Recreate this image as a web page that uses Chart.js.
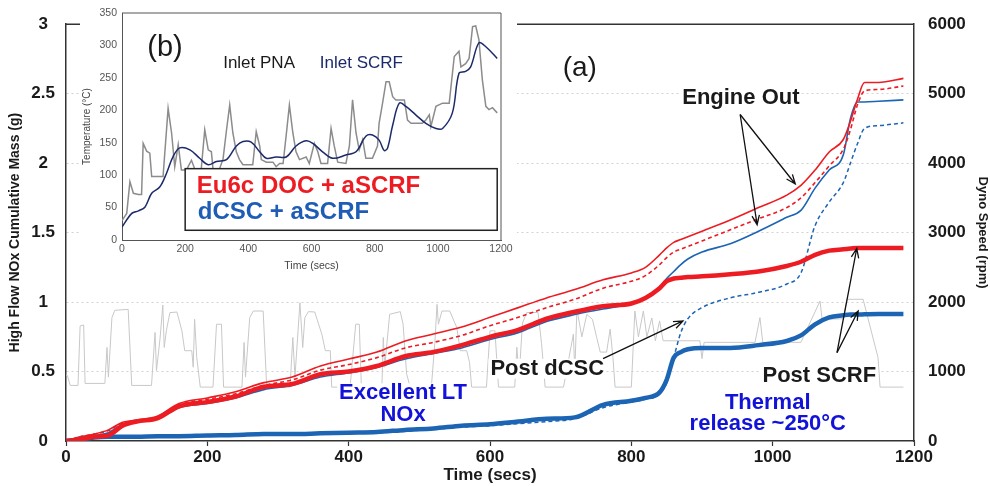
<!DOCTYPE html>
<html>
<head>
<meta charset="utf-8">
<script src="https://cdn.jsdelivr.net/npm/chart.js@4.4.0/dist/chart.umd.min.js"></script>
<style>
  html, body { margin: 0; padding: 0; background: #fff; }
  #wrap { position: relative; width: 990px; height: 486px; }
  #main { position: absolute; left: 0; top: 0; }
  #inset { position: absolute; left: 80px; top: 0; background: #fff; }
</style>
</head>
<body>
<div id="wrap">
  <canvas id="main" width="990" height="486"></canvas>
  <canvas id="inset" width="437" height="276"></canvas>
</div>
<script>
// cumulative NOx (g), sampled on a shared time grid (s)
const times = [0, 20, 40, 60, 80, 100, 130, 160, 200, 240, 280, 320, 360, 400, 440, 480, 520, 560, 600, 640, 680, 720, 760, 800, 820, 840, 850, 860, 870, 880, 900, 940, 980, 1020, 1040, 1060, 1080, 1100, 1110, 1120, 1130, 1150, 1185];

const eu6cEngineOut = [0, 0.03, 0.05, 0.08, 0.135, 0.15, 0.18, 0.27, 0.31, 0.355, 0.42, 0.46, 0.54, 0.59, 0.64, 0.72, 0.77, 0.82, 0.89, 0.96, 1.03, 1.09, 1.16, 1.21, 1.25, 1.34, 1.39, 1.43, 1.45, 1.47, 1.51, 1.59, 1.68, 1.77, 1.84, 1.95, 2.08, 2.17, 2.30, 2.46, 2.58, 2.58, 2.61];
const eu6cPostDoc = [0, 0.03, 0.05, 0.075, 0.13, 0.145, 0.17, 0.26, 0.30, 0.34, 0.40, 0.44, 0.51, 0.55, 0.60, 0.67, 0.71, 0.76, 0.83, 0.89, 0.96, 1.02, 1.10, 1.15, 1.19, 1.27, 1.32, 1.36, 1.38, 1.40, 1.44, 1.52, 1.60, 1.68, 1.75, 1.86, 1.98, 2.10, 2.24, 2.42, 2.52, 2.53, 2.555];
const eu6cPostScrf = [0, 0.01, 0.03, 0.04, 0.11, 0.14, 0.165, 0.25, 0.28, 0.32, 0.39, 0.41, 0.48, 0.50, 0.54, 0.61, 0.64, 0.69, 0.75, 0.80, 0.88, 0.93, 0.97, 0.99, 1.03, 1.10, 1.15, 1.17, 1.175, 1.18, 1.185, 1.20, 1.22, 1.26, 1.29, 1.34, 1.37, 1.38, 1.385, 1.39, 1.39, 1.39, 1.39];
const dcscEngineOut = [0, 0.02, 0.04, 0.06, 0.12, 0.14, 0.16, 0.24, 0.27, 0.31, 0.37, 0.40, 0.46, 0.49, 0.53, 0.59, 0.63, 0.67, 0.73, 0.78, 0.86, 0.91, 0.95, 0.99, 1.03, 1.11, 1.17, 1.22, 1.27, 1.31, 1.36, 1.42, 1.51, 1.61, 1.66, 1.82, 1.95, 2.06, 2.32, 2.44, 2.44, 2.445, 2.455];
const dcscPostDcsc = [0, 0.01, 0.02, 0.025, 0.028, 0.03, 0.03, 0.033, 0.036, 0.04, 0.045, 0.048, 0.05, 0.055, 0.06, 0.07, 0.085, 0.10, 0.11, 0.125, 0.14, 0.16, 0.24, 0.28, 0.30, 0.34, 0.42, 0.60, 0.78, 0.88, 0.96, 1.03, 1.07, 1.13, 1.21, 1.55, 1.72, 1.86, 2.0, 2.14, 2.25, 2.27, 2.29];
const dcscPostScrf = [0, 0.01, 0.025, 0.03, 0.03, 0.03, 0.035, 0.035, 0.04, 0.043, 0.05, 0.05, 0.055, 0.06, 0.065, 0.08, 0.09, 0.11, 0.12, 0.14, 0.16, 0.17, 0.26, 0.29, 0.31, 0.35, 0.44, 0.60, 0.64, 0.66, 0.67, 0.67, 0.69, 0.72, 0.76, 0.84, 0.89, 0.905, 0.91, 0.91, 0.912, 0.915, 0.915];

// dyno speed trace (rpm)
const dynoTime = [0, 2, 6, 17, 20, 25, 27, 55, 58, 60, 65, 69, 88, 93, 121, 126, 128, 133, 137, 139, 142, 147, 157, 164, 168, 178, 180, 182, 185, 190, 208, 213, 220, 223, 249, 252, 254, 260, 265, 279, 284, 317, 321, 324, 331, 335, 338, 343, 352, 362, 367, 374, 376, 402, 410, 415, 418, 447, 449, 451, 458, 473, 477, 482, 487, 517, 522, 525, 527, 532, 543, 553, 558, 567, 571, 574, 595, 600, 607, 612, 635, 638, 641, 646, 652, 668, 673, 678, 704, 718, 720, 723, 730, 737, 745, 751, 756, 765, 770, 774, 777, 800, 805, 810, 817, 822, 829, 834, 840, 845, 897, 900, 903, 975, 982, 986, 1040, 1067, 1070, 1100, 1105, 1128, 1149, 1152, 1185];
const dynoRpm = [950, 943, 800, 800, 1657, 1670, 829, 829, 1347, 919, 1776, 1881, 1895, 800, 800, 1562, 1014, 1467, 1957, 1347, 1586, 1847, 1857, 1586, 1300, 1300, 1062, 1752, 1205, 776, 776, 1681, 1681, 776, 776, 1419, 920, 1776, 1871, 1871, 776, 776, 1490, 920, 1990, 1347, 1776, 1862, 1857, 1538, 1300, 1300, 776, 776, 1681, 1681, 776, 776, 1490, 1062, 1824, 1862, 1681, 967, 776, 776, 1419, 1967, 1681, 1871, 1871, 1633, 1300, 1300, 1133, 776, 776, 1586, 1586, 776, 776, 1350, 900, 1700, 1850, 1850, 1400, 776, 776, 1538, 1000, 1895, 1500, 1824, 1750, 1490, 1280, 1280, 1610, 1200, 776, 776, 1871, 1500, 1871, 1500, 1771, 1443, 1729, 1443, 1443, 1186, 1420, 1420, 1776, 1420, 1420, 2014, 1750, 1760, 2040, 2040, 1205, 776, 776];

// inset (b): inlet temperatures (°C)
const pnaTime = [0, 15, 25, 36, 52, 62, 67, 78, 88, 94, 130, 146, 157, 167, 178, 188, 204, 220, 230, 251, 262, 273, 283, 288, 309, 320, 331, 341, 351, 362, 372, 383, 414, 425, 436, 441, 457, 478, 488, 499, 510, 520, 530, 541, 551, 562, 583, 593, 609, 620, 630, 651, 662, 672, 683, 709, 720, 730, 741, 751, 762, 772, 793, 809, 814, 825, 836, 846, 857, 867, 894, 904, 915, 951, 962, 973, 978, 994, 1015, 1036, 1052, 1067, 1073, 1088, 1099, 1110, 1120, 1130, 1141, 1152, 1162, 1173, 1188];
const pnaTemp = [30, 41, 90, 72, 70, 70, 149, 137, 134, 98, 98, 203, 165, 113, 147, 108, 108, 123, 110, 110, 170, 139, 136, 110, 110, 125, 170, 208, 165, 136, 124, 116, 116, 167, 145, 124, 120, 120, 113, 118, 118, 162, 208, 165, 136, 124, 128, 118, 149, 136, 118, 118, 172, 145, 120, 118, 145, 216, 165, 139, 155, 126, 126, 145, 180, 211, 244, 244, 221, 216, 216, 185, 180, 180, 185, 193, 175, 206, 211, 211, 283, 291, 267, 272, 280, 329, 330, 309, 247, 206, 201, 204, 196];
const scrfTime = [0, 31, 52, 73, 94, 120, 141, 162, 183, 215, 246, 273, 299, 331, 362, 383, 409, 436, 457, 488, 520, 551, 583, 604, 635, 667, 709, 741, 772, 793, 814, 830, 841, 857, 878, 899, 930, 962, 994, 1015, 1046, 1067, 1088, 1104, 1130, 1152, 1188];
const scrfTemp = [20, 41, 45, 51, 72, 82, 103, 129, 142, 139, 126, 116, 121, 124, 145, 152, 151, 136, 126, 128, 128, 145, 153, 149, 136, 126, 131, 136, 160, 162, 154, 138, 142, 177, 211, 206, 193, 180, 172, 172, 196, 257, 260, 267, 304, 298, 280];

const FONT = "'Liberation Sans', Arial, sans-serif";
const RED = "#ec1c22";
const BLUE = "#1c64b4";
const INK = "#1a1a1a";

const xy = (ts, vs) => ts.map((t, i) => ({ x: t, y: vs[i] }));

// draws frame, annotations and arrows for chart (a)
const mainNotes = {
  id: "mainNotes",
  afterDraw(chart) {
    const { ctx, chartArea: a, scales: { x, y } } = chart;
    ctx.save();
    ctx.strokeStyle = "#333";
    ctx.lineWidth = 1.5;
    ctx.beginPath();
    ctx.moveTo(a.left, a.top);
    ctx.lineTo(a.right, a.top);
    ctx.stroke();

    const note = (text, t, v, color, font) => {
      const px = x.getPixelForValue(t), py = y.getPixelForValue(v);
      ctx.font = font;
      const w = ctx.measureText(text).width;
      ctx.fillStyle = "#fff";
      ctx.fillRect(px - w / 2 - 2, py - 10, w + 4, 20);
      ctx.fillStyle = color;
      ctx.textAlign = "center";
      ctx.textBaseline = "middle";
      ctx.fillText(text, px, py);
    };
    const arrow = (t0, v0, t1, v1) => {
      const x0 = x.getPixelForValue(t0), y0 = y.getPixelForValue(v0);
      const x1 = x.getPixelForValue(t1), y1 = y.getPixelForValue(v1);
      const ang = Math.atan2(y1 - y0, x1 - x0), h = 10, s = 0.38;
      ctx.strokeStyle = "#111";
      ctx.lineWidth = 1.3;
      ctx.beginPath();
      ctx.moveTo(x0, y0);
      ctx.lineTo(x1, y1);
      ctx.moveTo(x1 - h * Math.cos(ang - s), y1 - h * Math.sin(ang - s));
      ctx.lineTo(x1, y1);
      ctx.lineTo(x1 - h * Math.cos(ang + s), y1 - h * Math.sin(ang + s));
      ctx.stroke();
    };

    const bold = "bold 22px " + FONT;
    note("Engine Out", 955, 2.47, INK, bold);
    note("Post dCSC", 681, 0.52, INK, bold);
    note("Post SCRF", 1066, 0.471, INK, bold);
    note("Excellent LT", 477, 0.343, "#1212d8", bold);
    note("NOx", 477, 0.186, "#1212d8", bold);
    note("Thermal", 993, 0.271, "#1212d8", bold);
    note("release ~250°C", 993, 0.121, "#1212d8", bold);

    ctx.font = "28px " + FONT;
    ctx.fillStyle = INK;
    ctx.textAlign = "center";
    ctx.textBaseline = "middle";
    ctx.fillText("(a)", x.getPixelForValue(727), y.getPixelForValue(2.686));

    arrow(954, 2.35, 978, 1.557);
    arrow(954, 2.35, 1032, 1.85);
    arrow(760, 0.593, 873, 0.864);
    arrow(1091, 0.636, 1119, 1.386);
    arrow(1091, 0.636, 1121, 0.936);
    ctx.restore();
  },
};

// frame, labels and legend box for inset (b)
const insetNotes = {
  id: "insetNotes",
  afterDraw(chart) {
    const { ctx, chartArea: a, scales: { x, y } } = chart;
    ctx.save();
    ctx.strokeStyle = "#555";
    ctx.lineWidth = 1;
    ctx.beginPath();
    ctx.moveTo(a.left, a.top);
    ctx.lineTo(a.right, a.top);
    ctx.lineTo(a.right, a.bottom);
    ctx.stroke();

    ctx.textBaseline = "middle";
    ctx.textAlign = "center";
    ctx.fillStyle = INK;
    ctx.font = "29px " + FONT;
    ctx.fillText("(b)", x.getPixelForValue(136), y.getPixelForValue(296));
    ctx.font = "17px " + FONT;
    ctx.fillText("Inlet PNA", x.getPixelForValue(434), y.getPixelForValue(273));
    ctx.fillStyle = "#1b2a6b";
    ctx.fillText("Inlet SCRF", x.getPixelForValue(758), y.getPixelForValue(273));

    const bx0 = x.getPixelForValue(200), bx1 = x.getPixelForValue(1188);
    const by0 = y.getPixelForValue(110), by1 = y.getPixelForValue(15);
    ctx.fillStyle = "#fff";
    ctx.fillRect(bx0, by0, bx1 - bx0, by1 - by0);
    ctx.strokeStyle = "#222";
    ctx.lineWidth = 1.5;
    ctx.strokeRect(bx0, by0, bx1 - bx0, by1 - by0);

    ctx.textAlign = "left";
    ctx.font = "bold 24px " + FONT;
    ctx.fillStyle = RED;
    ctx.fillText("Eu6c DOC + aSCRF", x.getPixelForValue(237), y.getPixelForValue(82));
    ctx.fillStyle = "#1f5cb6";
    ctx.fillText("dCSC + aSCRF", x.getPixelForValue(240), y.getPixelForValue(42));
    ctx.restore();
  },
};

const tickFont = { family: FONT, size: 17, weight: "bold" };

new Chart(document.getElementById("main").getContext("2d"), {
  type: "line",
  data: {
    datasets: [
      { label: "Eu6c post SCRF", data: xy(times, eu6cPostScrf), borderColor: RED, borderWidth: 4.5, yAxisID: "y" },
      { label: "dCSC post SCRF", data: xy(times, dcscPostScrf), borderColor: BLUE, borderWidth: 4.5, yAxisID: "y" },
      { label: "Eu6c engine out", data: xy(times, eu6cEngineOut), borderColor: RED, borderWidth: 1.6, yAxisID: "y" },
      { label: "Eu6c post DOC", data: xy(times, eu6cPostDoc), borderColor: RED, borderWidth: 1.6, borderDash: [4, 3], yAxisID: "y" },
      { label: "dCSC engine out", data: xy(times, dcscEngineOut), borderColor: BLUE, borderWidth: 1.6, yAxisID: "y" },
      { label: "Post dCSC", data: xy(times, dcscPostDcsc), borderColor: BLUE, borderWidth: 1.5, borderDash: [4, 3], yAxisID: "y" },
      { label: "Dyno speed", data: xy(dynoTime, dynoRpm), borderColor: "#c8c8c8", borderWidth: 1, yAxisID: "y1", cubicInterpolationMode: "default", tension: 0 },
    ],
  },
  options: {
    responsive: false,
    animation: false,
    elements: { point: { radius: 0 }, line: { cubicInterpolationMode: "monotone" } },
    layout: { padding: { top: 21, left: 0, right: 0, bottom: 0 } },
    plugins: { legend: { display: false }, tooltip: { enabled: false } },
    scales: {
      x: {
        type: "linear",
        min: 0,
        max: 1200,
        ticks: { stepSize: 200, padding: 1, font: tickFont, color: INK, callback: (v) => String(v) },
        grid: { display: true, drawOnChartArea: false, drawTicks: true, tickLength: 5, tickColor: "#333", tickWidth: 1.2 },
        border: { color: "#333", width: 1.5 },
        title: { display: true, text: "Time (secs)", color: INK, font: { family: FONT, size: 17, weight: "bold" }, padding: { top: 0, bottom: 0 } },
        afterFit: (s) => { s.height = 45; },
      },
      y: {
        position: "left",
        min: 0,
        max: 3,
        ticks: { stepSize: 0.5, padding: 11, crossAlign: "center", font: tickFont, color: INK, callback: (v) => String(v) },
        grid: {
          drawTicks: false,
          color: (c) => (c.tick && c.tick.value > 0 && c.tick.value < 3 ? "#d2d2d2" : "rgba(0,0,0,0)"),
          lineWidth: 1,
        },
        border: { color: "#333", width: 1.5, dash: [2, 3] },
        title: { display: true, text: "High Flow NOx Cumulative Mass (g)", color: INK, font: { family: FONT, size: 14, weight: "bold" }, padding: { top: 7, bottom: 0 } },
        afterFit: (s) => { s.width = 66; },
      },
      y1: {
        position: "right",
        min: 0,
        max: 6000,
        ticks: { stepSize: 1000, padding: 14, font: tickFont, color: INK, callback: (v) => String(v) },
        grid: { display: false, drawTicks: false },
        border: { color: "#333", width: 1.5 },
        title: { display: true, text: "Dyno Speed (rpm)", color: INK, font: { family: FONT, size: 13, weight: "bold" }, padding: { top: 0, bottom: 0 } },
        afterFit: (s) => { s.width = 76; },
      },
    },
  },
  plugins: [mainNotes],
});

const insetFont = { family: FONT, size: 10.5 };

new Chart(document.getElementById("inset").getContext("2d"), {
  type: "line",
  data: {
    datasets: [
      { label: "Inlet SCRF", data: xy(scrfTime, scrfTemp), borderColor: "#1b2a6b", borderWidth: 1.5, tension: 0.35 },
      { label: "Inlet PNA", data: xy(pnaTime, pnaTemp), borderColor: "#8c8c8c", borderWidth: 1.5, tension: 0 },
    ],
  },
  options: {
    responsive: false,
    animation: false,
    elements: { point: { radius: 0 } },
    layout: { padding: { top: 13, left: 0, right: 16, bottom: 0 } },
    plugins: { legend: { display: false }, tooltip: { enabled: false } },
    scales: {
      x: {
        type: "linear",
        min: 0,
        max: 1200,
        ticks: { stepSize: 200, padding: 3, font: insetFont, color: "#555", callback: (v) => String(v) },
        grid: { display: false, drawTicks: false },
        border: { color: "#555", width: 1 },
        title: { display: true, text: "Time (secs)", color: "#444", font: insetFont, padding: { top: 0, bottom: 4 } },
        afterFit: (s) => { s.height = 36; s.paddingLeft = 0; s.paddingRight = 0; },
      },
      y: {
        min: 0,
        max: 350,
        ticks: { stepSize: 50, padding: 5, font: insetFont, color: "#555", callback: (v) => String(v) },
        grid: { display: false, drawTicks: false },
        border: { color: "#555", width: 1 },
        title: { display: true, text: "Temperature (°C)", color: "#444", font: { family: FONT, size: 10 }, padding: { top: 1, bottom: 0 } },
        afterFit: (s) => { s.width = 42; s.paddingTop = 0; s.paddingBottom = 0; },
      },
    },
  },
  plugins: [insetNotes],
});
</script>
</body>
</html>
